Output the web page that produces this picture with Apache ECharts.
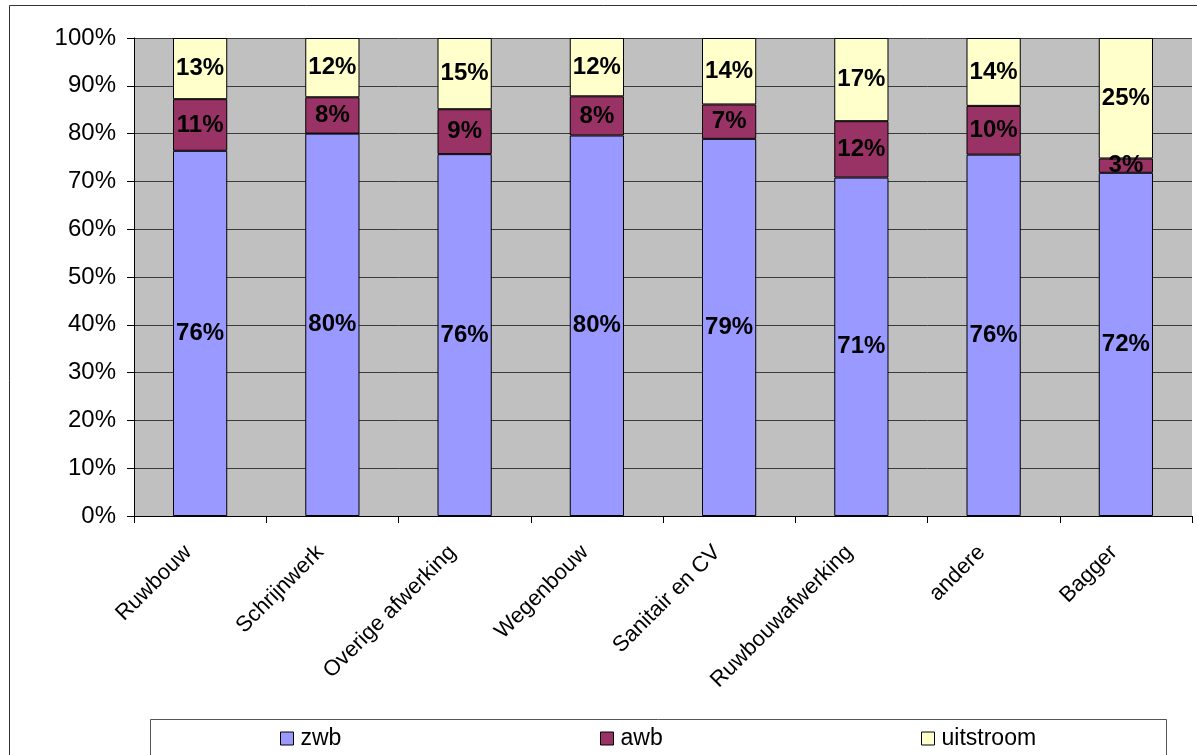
<!DOCTYPE html>
<html>
<head>
<meta charset="utf-8">
<script src="https://cdn.jsdelivr.net/npm/echarts@6/dist/echarts.min.js"></script>
<style>
html,body{margin:0;padding:0;background:#fff;}
#c{width:1197px;height:755px;}
</style>
</head>
<body>
<div id="c"></div>
<script>
const categories = ['Ruwbouw','Schrijnwerk','Overige afwerking','Wegenbouw','Sanitair en CV','Ruwbouwafwerking','andere','Bagger'];
const zwb = [76.4, 80.0, 75.7, 79.6, 78.9, 70.8, 75.6, 71.8];
const awb = [10.8, 7.6, 9.4, 8.2, 7.2, 11.8, 10.2, 3.0];
const uitstroom = [12.8, 12.4, 14.9, 12.2, 13.9, 17.4, 14.2, 25.2];
const seriesNames = ['zwb','awb','uitstroom'];
const colors = ['#9999ff','#993366','#ffffcc'];
const yTicks = [0,10,20,30,40,50,60,70,80,90,100];

const FONT = '"Liberation Sans", Arial, sans-serif';
const chart = echarts.init(document.getElementById('c'), null, {renderer:'canvas'});

function mkSeries(name, data, color){
  return {
    name: name, type: 'bar', stack: 'total', data: data,
    barWidth: '41%',
    itemStyle: {color: color, borderColor: '#000', borderWidth: 1},
    label: {
      show: true, position: 'inside', color: '#000',
      fontFamily: FONT, fontWeight: 'bold', fontSize: 24,
      formatter: p => Math.round(p.value) + '%'
    },
    emphasis: {disabled: true},
    animation: false
  };
}

function mkLegend(name, left){
  return {
    data: [name], left: left, top: 727, padding: 0,
    itemWidth: 13, itemHeight: 13, itemGap: 0,
    icon: 'rect',
    itemStyle: {borderColor: '#000', borderWidth: 1},
    textStyle: {fontFamily: FONT, fontSize: 23, color: '#000', padding: [0,0,0,2]},
    selectedMode: false
  };
}

chart.setOption({
  animation: false,
  backgroundColor: '#fff',
  color: colors,
  graphic: [
    {type:'rect', shape:{x:9.5, y:5.5, width:1300, height:800}, style:{fill:'none', stroke:'#333', lineWidth:1}, z:-10},
    {type:'rect', shape:{x:150.5, y:719.5, width:1016, height:60}, style:{fill:'#fff', stroke:'#555', lineWidth:1}, z:-5}
  ],
  legend: [mkLegend('zwb', 280), mkLegend('awb', 600), mkLegend('uitstroom', 921)],
  grid: {left:134, top:38, right:5, bottom:239, show:true, backgroundColor:'#c0c0c0', borderWidth:0},
  xAxis: {
    type: 'category', data: categories,
    axisLine: {show:true, lineStyle:{color:'#000', width:1}},
    axisTick: {show:true, interval:0, length:7, lineStyle:{color:'#000'}},
    axisLabel: {interval:0, rotate:45, margin:21, padding:[0,17,0,0], color:'#000', fontFamily:FONT, fontSize:22},
    splitLine: {show:false}
  },
  yAxis: {
    type: 'value', min: yTicks[0], max: yTicks[yTicks.length-1], interval: 10,
    axisLine: {show:true, lineStyle:{color:'#000', width:1}},
    axisTick: {show:true, length:7, lineStyle:{color:'#000'}},
    axisLabel: {color:'#000', fontFamily:FONT, fontSize:24, margin:18, formatter:'{value}%'},
    splitLine: {show:true, lineStyle:{color:'#3a3a3a', width:1}}
  },
  series: [
    mkSeries(seriesNames[0], zwb, colors[0]),
    mkSeries(seriesNames[1], awb, colors[1]),
    mkSeries(seriesNames[2], uitstroom, colors[2])
  ]
});
</script>
</body>
</html>
